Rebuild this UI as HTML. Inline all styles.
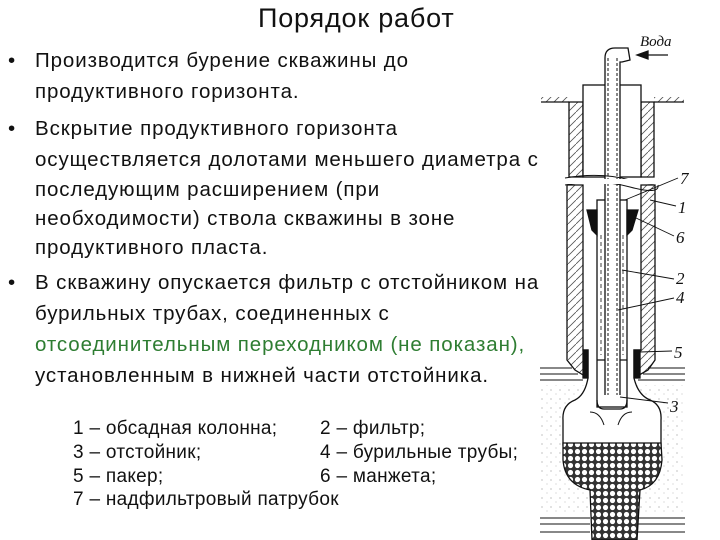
<!DOCTYPE html>
<html><head><meta charset="utf-8"><style>
body{margin:0;width:720px;height:540px;background:#fff;position:relative;overflow:hidden;font-family:"Liberation Sans",sans-serif;color:#111}
.t{position:absolute;white-space:nowrap}
.b{font-size:20.5px;letter-spacing:0.9px}
.l{font-size:19px;letter-spacing:0.3px}
</style></head><body>
<div class="t" style="left:258px;top:3px;font-size:27px;letter-spacing:0.8px">Порядок работ</div>
<div class="t b" style="left:8px;top:49px">•</div>
<div class="t b" style="left:35px;top:49px">Производится бурение скважины до</div>
<div class="t b" style="left:35px;top:80px">продуктивного горизонта.</div>
<div class="t b" style="left:8px;top:117px">•</div>
<div class="t b" style="left:35px;top:117px">Вскрытие продуктивного горизонта</div>
<div class="t b" style="left:35px;top:148px">осуществляется долотами меньшего диаметра с</div>
<div class="t b" style="left:35px;top:178px">последующим расширением (при</div>
<div class="t b" style="left:35px;top:207px">необходимости) ствола скважины в зоне</div>
<div class="t b" style="left:35px;top:236px">продуктивного пласта.</div>
<div class="t b" style="left:8px;top:271px">•</div>
<div class="t b" style="left:35px;top:271px">В скважину опускается фильтр с отстойником на</div>
<div class="t b" style="left:35px;top:302px">бурильных трубах, соединенных с</div>
<div class="t b" style="left:35px;top:333px;color:#2e7d32">отсоединительным переходником (не показан),</div>
<div class="t b" style="left:35px;top:364px">установленным в нижней части отстойника.</div>
<div class="t l" style="left:73px;top:418px">1 – обсадная колонна;</div>
<div class="t l" style="left:320px;top:418px">2 – фильтр;</div>
<div class="t l" style="left:73px;top:442px">3 – отстойник;</div>
<div class="t l" style="left:320px;top:442px">4 – бурильные трубы;</div>
<div class="t l" style="left:73px;top:466px">5 – пакер;</div>
<div class="t l" style="left:320px;top:466px">6 – манжета;</div>
<div class="t l" style="left:73px;top:489px">7 – надфильтровый патрубок</div>
<svg style="position:absolute;left:0;top:0" width="720" height="540">
<defs>
<pattern id="h" width="8" height="8" patternUnits="userSpaceOnUse"><path d="M0 8L8 0" stroke="#555" stroke-width="0.8"/></pattern>
<pattern id="g" width="7" height="7" patternUnits="userSpaceOnUse"><rect width="7" height="7" fill="#333"/><circle cx="3.5" cy="3.5" r="2.6" fill="#fff"/></pattern>
<pattern id="d" width="9" height="9" patternUnits="userSpaceOnUse"><circle cx="2" cy="3" r="0.6" fill="#999"/><circle cx="7" cy="7" r="0.5" fill="#aaa"/></pattern>
</defs>
<g stroke="#111" fill="none" stroke-width="1.3">
<rect x="541" y="97" width="28" height="5" fill="url(#h)" stroke="none"/>
<rect x="654" y="97" width="30" height="5" fill="url(#h)" stroke="none"/>
<line x1="541" y1="102" x2="569" y2="102"/><line x1="654" y1="102" x2="684" y2="102"/>
<path d="M569 102 L583 102 L583 177 L569 177 Z" fill="url(#h)"/>
<path d="M641 102 L654 102 L654 177 L641 177 Z" fill="url(#h)"/>
<rect x="583" y="85" width="58" height="92" fill="#fff"/>
<path d="M567 185 L583 185 L583 350 L588 350 L588 378 L575 370 L567 360 Z" fill="url(#h)"/>
<path d="M641 185 L655 185 L655 360 L648 370 L634 378 L634 350 L641 350 Z" fill="url(#h)"/>
<g stroke-width="1"><line x1="540" y1="368" x2="572" y2="368"/><line x1="540" y1="374" x2="578" y2="374"/><line x1="540" y1="380" x2="583" y2="380"/><line x1="648" y1="368" x2="685" y2="368"/><line x1="643" y1="374" x2="685" y2="374"/><line x1="638" y1="380" x2="685" y2="380"/>
<line x1="540" y1="518" x2="590" y2="518"/><line x1="540" y1="524" x2="590" y2="524"/><line x1="540" y1="532" x2="590" y2="532"/><line x1="638" y1="518" x2="685" y2="518"/><line x1="638" y1="524" x2="685" y2="524"/><line x1="638" y1="532" x2="685" y2="532"/></g>
<rect x="540" y="385" width="145" height="130" fill="url(#d)" stroke="none"/>
<path d="M588 378 Q585 395 575 400 Q562 405 563 420 L563 445 L661 445 L661 420 Q662 405 650 400 Q638 395 634 378" fill="#fff"/>
<path d="M563 443 L661 443 L662 460 Q660 485 640 490 L637 540 L592 540 L590 490 Q565 485 563 460 Z" fill="url(#g)"/>
<rect x="583" y="350" width="5" height="28" fill="#111"/><rect x="634" y="350" width="6" height="28" fill="#111"/>
<rect x="597" y="200" width="30" height="207" fill="#fff"/>
<path d="M597 400 Q597 409 604 409 L620 409 Q627 409 627 400"/>
<line x1="597" y1="360" x2="627" y2="360"/>
<line x1="601" y1="235" x2="601" y2="355" stroke-dasharray="4 3" stroke-width="0.8"/>
<line x1="623" y1="235" x2="623" y2="355" stroke-dasharray="4 3" stroke-width="0.8"/>
<path d="M587 210 L597 210 L597 235 L592 230 Z" fill="#111"/>
<path d="M627 210 L638 210 L632 230 L627 235 Z" fill="#111"/>
<path d="M605 395 L605 58 Q605 48 615 48 L628 48 L630 60 L622 62 L620 62 L620 395" fill="#fff"/>
<line x1="608" y1="58" x2="608" y2="395" stroke-dasharray="3 2" stroke-width="1"/>
<line x1="617" y1="58" x2="617" y2="395" stroke-dasharray="3 2" stroke-width="1"/>
<path d="M565 178 Q600 172 630 180 T658 179 M565 185 Q600 179 630 187 T658 185" stroke-width="1"/>
<rect x="564" y="179" width="96" height="5" fill="#fff" stroke="none"/>
<path d="M604 425 Q600 412 590 412 M618 425 Q622 412 632 412" stroke-width="1"/>
<line x1="640" y1="55" x2="668" y2="55"/><path d="M637 55 L648 51 L648 59 Z" fill="#111"/>
<g stroke-width="0.9"><line x1="625" y1="200" x2="678" y2="178"/><line x1="650" y1="200" x2="676" y2="206"/><line x1="636" y1="218" x2="674" y2="236"/><line x1="622" y1="270" x2="674" y2="279"/><line x1="618" y1="310" x2="674" y2="298"/><line x1="640" y1="352" x2="672" y2="351"/><line x1="620" y1="397" x2="668" y2="403"/></g>
</g>
<g font-family="Liberation Serif,serif" font-style="italic" font-size="17" fill="#111">
<text x="640" y="46" font-size="15">Вода</text>
<text x="680" y="184">7</text><text x="678" y="213">1</text><text x="676" y="243">6</text><text x="676" y="284">2</text><text x="676" y="303">4</text><text x="674" y="358">5</text><text x="670" y="412">3</text>
</g>
</svg>
</body></html>
